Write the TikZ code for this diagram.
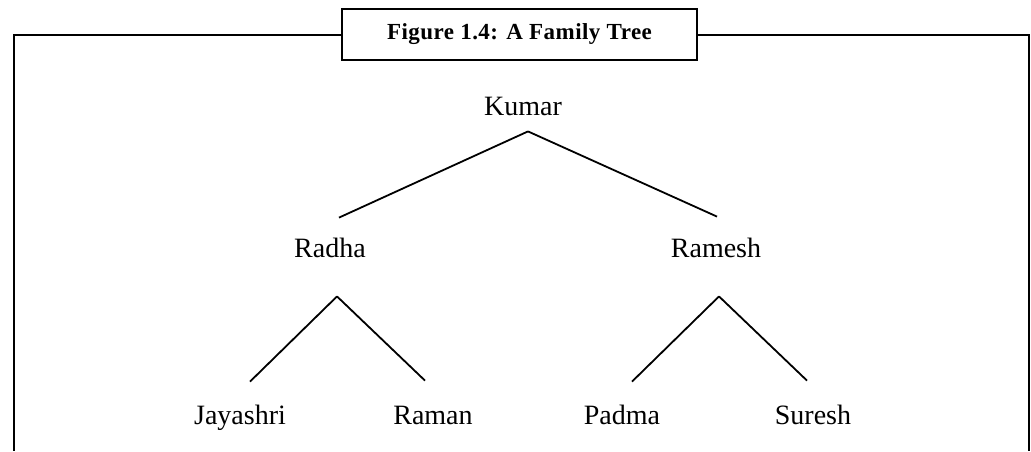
\documentclass[tikz,border=0pt]{standalone}
\usepackage{fontspec}
\setmainfont{Liberation Serif}
\newfontfamily\captionfont[LetterSpace=2]{Liberation Serif}
\usetikzlibrary{positioning}

\begin{document}
\begin{tikzpicture}[
  x=0.5pt, y=-0.5pt,
  person/.style={inner sep=0pt, text height=9pt, text depth=3pt, font=\fontsize{14}{16}\selectfont},
  branch/.style={line width=0.9pt},
  frame/.style={line width=1pt},
  titlebox/.style={draw, line width=1pt, minimum width=177.5pt, minimum height=25.5pt, inner sep=0pt, font=\captionfont\fontsize{11.5}{13}\selectfont\bfseries},
  on grid
]
\useasboundingbox (0,0) rectangle (1031,451);

% caption box and open frame
\node[titlebox] (title) at (519.5,34.5) {Figure 1.4: A Family Tree};
\coordinate (tl) at (14,34.5);
\coordinate (tr) at (1029,34.5);
\draw[frame] (title.west) -- (tl) -- (14,451);
\draw[frame] (title.east) -- (tr) -- (1029,451);

% tree
\node[person] (kumar) at (523,109) {Kumar};
\node[person, below left=71pt and 96.5pt of kumar] (radha) {Radha};
\node[person, below right=71pt and 96.5pt of kumar] (ramesh) {Ramesh};
\node[person, below left=83.5pt and 45pt of radha] (jayashri) {Jayashri};
\node[person, below right=83.5pt and 51.5pt of radha] (raman) {Raman};
\node[person, below left=83.5pt and 47pt of ramesh] (padma) {Padma};
\node[person, below right=83.5pt and 48.5pt of ramesh] (suresh) {Suresh};

\draw[branch] ([shift={(5,10)}]kumar.south) -- ([shift={(9,-21)}]radha.north);
\draw[branch] ([shift={(5,10)}]kumar.south) -- ([shift={(1,-22)}]ramesh.north);
\draw[branch] ([shift={(7,33)}]radha.south) -- ([shift={(10,-24)}]jayashri.north);
\draw[branch] ([shift={(7,33)}]radha.south) -- ([shift={(-8,-25)}]raman.north);
\draw[branch] ([shift={(3,33)}]ramesh.south) -- ([shift={(10,-24)}]padma.north);
\draw[branch] ([shift={(3,33)}]ramesh.south) -- ([shift={(-6,-25)}]suresh.north);
\end{tikzpicture}
\end{document}
